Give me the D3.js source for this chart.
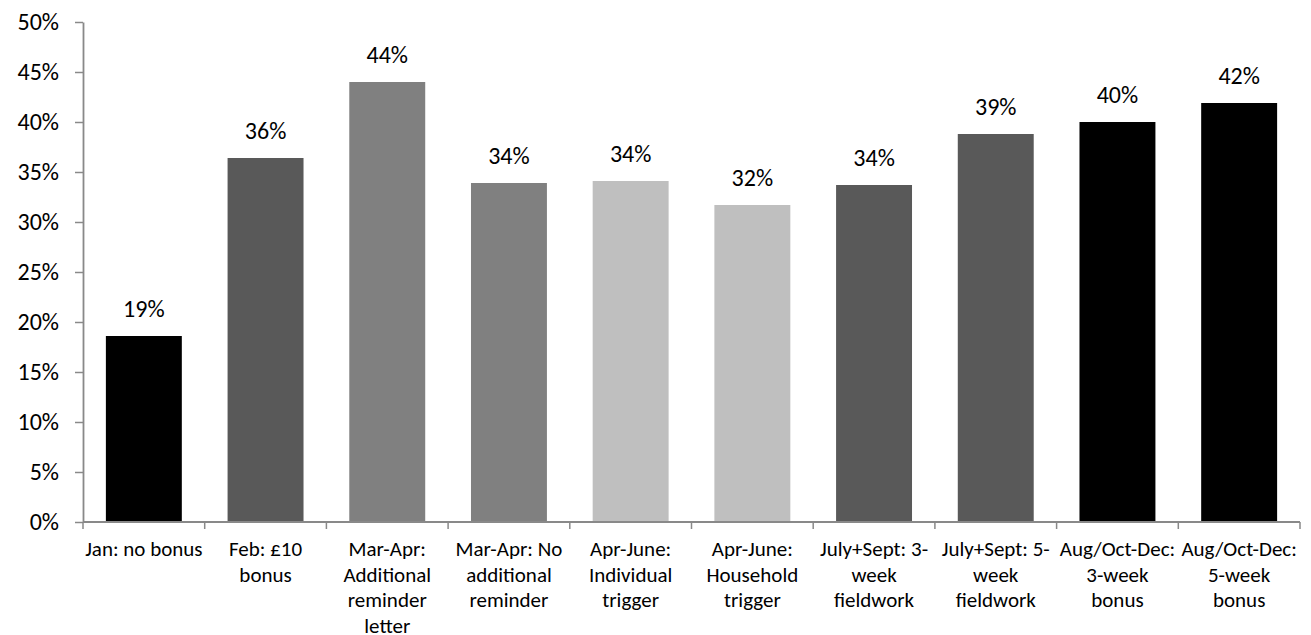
<!DOCTYPE html>
<html>
<head>
<meta charset="utf-8">
<script src="https://cdn.jsdelivr.net/npm/d3@7/dist/d3.min.js"></script>
<style>
  html, body { margin: 0; padding: 0; background: #fff; }
  svg { display: block; }
  text { font-family: Carlito, Calibri, "Open Sans", sans-serif; fill: #000; }
</style>
</head>
<body>
<svg id="chart" width="1311" height="635"></svg>
<script>
// Response rate by fieldwork period / incentive condition
const categories = [
  "Jan: no bonus",
  "Feb: £10\nbonus",
  "Mar-Apr:\nAdditional\nreminder\nletter",
  "Mar-Apr: No\nadditional\nreminder",
  "Apr-June:\nIndividual\ntrigger",
  "Apr-June:\nHousehold\ntrigger",
  "July+Sept: 3-\nweek\nfieldwork",
  "July+Sept: 5-\nweek\nfieldwork",
  "Aug/Oct-Dec:\n3-week\nbonus",
  "Aug/Oct-Dec:\n5-week\nbonus"
];
const values = [18.6, 36.4, 44.0, 33.9, 34.1, 31.7, 33.7, 38.8, 40.0, 41.9];
const barColors = ["#000000", "#595959", "#808080", "#808080", "#bfbfbf",
                   "#bfbfbf", "#595959", "#595959", "#000000", "#000000"];
const yTicks = [0, 5, 10, 15, 20, 25, 30, 35, 40, 45, 50];

const svg = d3.select("#chart");
const plotLeft = 83, plotRight = 1300, plotTop = 22, plotBottom = 522;
const axisColor = "#898989";
const catFont = 21;
const numFont = 24;

const x = d3.scaleBand()
  .domain(categories)
  .range([plotLeft, plotRight])
  .paddingInner(0.376)
  .paddingOuter(0.188);

const y = d3.scaleLinear().domain([0, 50]).range([plotBottom, plotTop]);

// bars
svg.append("g").selectAll("rect")
  .data(categories)
  .join("rect")
  .attr("x", d => x(d))
  .attr("width", x.bandwidth())
  .attr("y", (d, i) => y(values[i]))
  .attr("height", (d, i) => y(0) - y(values[i]))
  .attr("fill", (d, i) => barColors[i]);

// value labels
svg.append("g").selectAll("text")
  .data(categories)
  .join("text")
  .attr("x", d => x(d) + x.bandwidth() / 2)
  .attr("y", (d, i) => y(values[i]) - 19)
  .attr("text-anchor", "middle")
  .style("font-size", numFont + "px")
  .text((d, i) => Math.round(values[i]) + "%");

// y axis
const yAxis = svg.append("g")
  .attr("transform", `translate(${plotLeft},0)`)
  .call(d3.axisLeft(y).tickValues(yTicks).tickFormat(d => d + "%")
    .tickSize(8).tickPadding(16).tickSizeOuter(0));
yAxis.select(".domain").attr("stroke", axisColor).attr("stroke-width", 1.8);
yAxis.selectAll(".tick line").attr("stroke", axisColor).attr("stroke-width", 1.5);
yAxis.selectAll(".tick text").style("font-size", numFont + "px").attr("fill", "#000")
  .style("font-family", "Carlito, Calibri, 'Open Sans', sans-serif");

// x axis line with boundary ticks between categories
const xg = svg.append("g");
xg.append("line")
  .attr("x1", plotLeft).attr("x2", plotRight)
  .attr("y1", plotBottom).attr("y2", plotBottom)
  .attr("stroke", axisColor).attr("stroke-width", 1.8);
const step = x.step();
const bounds = d3.range(categories.length + 1).map(i => plotLeft + i * step);
xg.selectAll(".bt")
  .data(bounds)
  .join("line")
  .attr("x1", d => d).attr("x2", d => d)
  .attr("y1", plotBottom).attr("y2", plotBottom + 7)
  .attr("stroke", axisColor).attr("stroke-width", 1.5);

// category labels, one tspan per line
const lab = xg.selectAll(".cat")
  .data(categories)
  .join("text")
  .attr("text-anchor", "middle")
  .attr("x", d => x(d) + x.bandwidth() / 2)
  .attr("y", 556)
  .style("font-size", catFont + "px");
lab.each(function(d) {
  const t = d3.select(this);
  d.split("\n").forEach((line, k) => {
    t.append("tspan")
      .attr("x", x(d) + x.bandwidth() / 2)
      .attr("dy", k === 0 ? 0 : 25.6)
      .text(line);
  });
});
</script>
</body>
</html>
